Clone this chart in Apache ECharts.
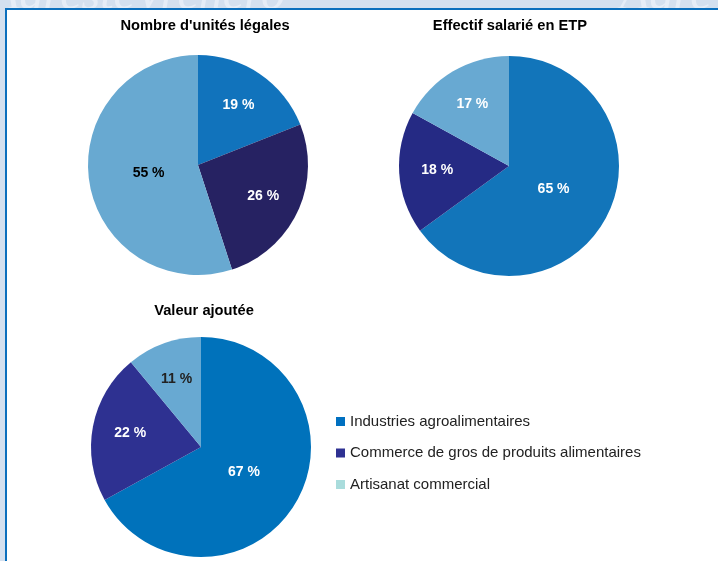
<!DOCTYPE html>
<html>
<head>
<meta charset="utf-8">
<script src="https://cdn.jsdelivr.net/npm/echarts@6/dist/echarts.min.js"></script>
<style>
html,body{margin:0;padding:0;background:#d4e0ef;}
#c{width:718px;height:561px;}
</style>
</head>
<body>
<div id="c"></div>
<script>
const categories = ['Industries agroalimentaires', 'Commerce de gros de produits alimentaires', 'Artisanat commercial'];
const chartTitles = ["Nombre d'unités légales", "Effectif salarié en ETP", "Valeur ajoutée"];
const unitesLegales = [19, 26, 55];
const effectifETP = [65, 18, 17];
const valeurAjoutee = [67, 22, 11];
const colorsPie1 = ['#1173bc', '#262262', '#68a9d1'];
const colorsPie2 = ['#1275ba', '#252a84', '#68a9d2'];
const colorsPie3 = ['#0072bb', '#2e3191', '#68a9d2'];
const legendColors = ['#0070c0', '#2e3192', '#a9dcdc'];
const labelColors1 = ['#fff', '#fff', '#000'];
const labelColors2 = ['#fff', '#fff', '#fff'];
const labelColors3 = ['#fff', '#fff', '#222'];

const FONT = "'Liberation Sans', Arial, sans-serif";
const chart = echarts.init(document.getElementById('c'), null, {renderer: 'canvas'});

const pies = [
  {values: unitesLegales, colors: colorsPie1, labels: labelColors1, center: [198, 165]},
  {values: effectifETP, colors: colorsPie2, labels: labelColors2, center: [509, 166]},
  {values: valeurAjoutee, colors: colorsPie3, labels: labelColors3, center: [201, 447]}
];

const series = [];
pies.forEach(p => {
  series.push({
    type: 'pie', center: p.center, radius: [0, 110], startAngle: 90, clockwise: true,
    label: {show: false}, labelLine: {show: false}, emphasis: {disabled: true}, silent: true,
    itemStyle: {borderWidth: 0},
    data: categories.map((n, i) => ({name: n, value: p.values[i], itemStyle: {color: p.colors[i]}}))
  });
  [[0, 94, v => v > 50], [30, 108, v => v <= 50]].forEach(([r0, r1, test]) => {
    series.push({
      type: 'pie', center: p.center, radius: [r0, r1], startAngle: 90, clockwise: true,
      emphasis: {disabled: true}, silent: true, legendHoverLink: false,
      itemStyle: {color: 'rgba(0,0,0,0)'}, labelLine: {show: false},
      data: categories.map((n, i) => ({
        name: n, value: p.values[i],
        label: {show: test(p.values[i]), position: 'inside', formatter: p.values[i] + ' %',
                color: p.labels[i], fontWeight: 'bold', fontSize: 14, fontFamily: FONT}
      }))
    });
  });
});

chart.setOption({
  animation: false,
  backgroundColor: 'transparent',
  graphic: [
    {type: 'text', left: -10, top: -28, silent: true, z: 0,
     style: {text: 'AgresteVrenero', font: 'italic 48px serif', fill: '#e6edf7'}},
    {type: 'text', left: 620, top: -28, silent: true, z: 0,
     style: {text: 'Agre', font: 'italic 48px serif', fill: '#e6edf7'}},
    {type: 'rect', shape: {x: 6, y: 9, width: 720, height: 560}, silent: true, z: 1,
     style: {fill: '#ffffff', stroke: '#0b6fbd', lineWidth: 2}}
  ],
  title: [
    {text: chartTitles[0], left: 200, top: 13, textAlign: 'center',
     textStyle: {fontSize: 14.7, fontWeight: 'bold', color: '#000', fontFamily: FONT}},
    {text: chartTitles[1], left: 505, top: 13, textAlign: 'center',
     textStyle: {fontSize: 14.7, fontWeight: 'bold', color: '#000', fontFamily: FONT}},
    {text: chartTitles[2], left: 199, top: 298, textAlign: 'center',
     textStyle: {fontSize: 14.7, fontWeight: 'bold', color: '#000', fontFamily: FONT}}
  ],
  legend: {
    orient: 'vertical', left: 336, top: 413, padding: 0, icon: 'rect',
    itemWidth: 9, itemHeight: 9, itemGap: 14.5, selectedMode: false,
    textStyle: {fontSize: 15, color: '#222', fontFamily: FONT, lineHeight: 17},
    data: categories.map((n, i) => ({name: n, itemStyle: {color: legendColors[i]}}))
  },
  series: series
});
</script>
</body>
</html>
